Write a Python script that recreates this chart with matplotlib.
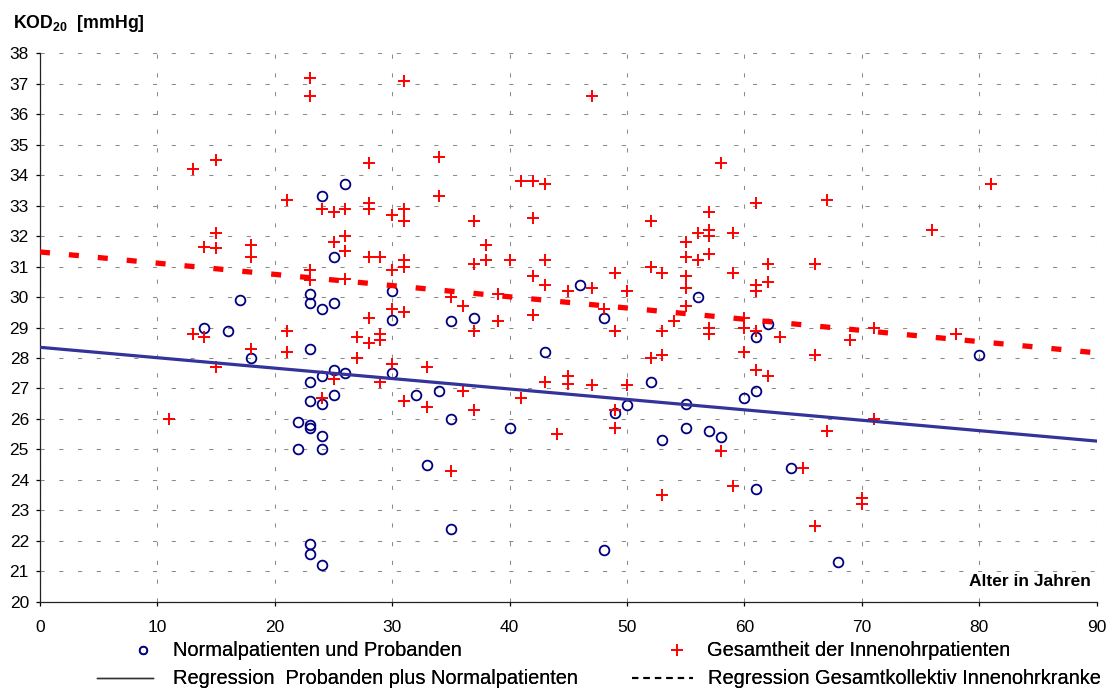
import numpy as np
import matplotlib
matplotlib.use('Agg')
import matplotlib.pyplot as plt
from matplotlib.lines import Line2D

plt.rcParams['font.family'] = ['Liberation Sans', 'DejaVu Sans']
plt.rcParams['mathtext.fontset'] = 'custom'
plt.rcParams['mathtext.rm'] = 'Liberation Sans'
plt.rcParams['mathtext.bf'] = 'Liberation Sans:bold'

## Daten: Normalpatienten und Probanden (Alter, KOD20)
norm_alter = [14, 16, 17, 18, 22, 22, 23, 23, 23, 23, 23, 23, 23, 23, 23,
              24, 24, 24, 24, 24, 24, 24, 25, 25, 25, 25, 26, 26, 30, 30,
              30, 32, 33, 34, 35, 35, 35, 37, 40, 43, 46, 48, 48, 49, 50,
              52, 53, 55, 55, 56, 57, 58, 60, 61, 61, 61, 62, 64, 68, 80]
norm_kod = [29.0, 28.9, 29.9, 28.0, 25.9, 25.0, 30.1, 29.8, 28.3, 27.2, 26.6, 25.8, 25.7, 21.9, 21.55,
            33.3, 29.6, 27.4, 26.5, 25.45, 25.0, 21.2, 31.3, 29.8, 27.6, 26.8, 33.7, 27.5, 30.2, 29.25,
            27.5, 26.8, 24.5, 26.9, 29.2, 26.0, 22.4, 29.3, 25.7, 28.2, 30.4, 29.3, 21.7, 26.2, 26.45,
            27.2, 25.3, 26.5, 25.7, 30.0, 25.6, 25.4, 26.7, 28.7, 26.9, 23.7, 29.1, 24.4, 21.3, 28.1]

## Daten: Gesamtheit der Innenohrpatienten
ohr_alter = [11, 13, 13, 14, 14, 15, 15, 15, 15, 18, 18, 18, 21, 21, 21,
             23, 23, 23, 23, 24, 24, 25, 25, 25, 26, 26, 26, 26, 27, 27,
             28, 28, 28, 28, 28, 28, 29, 29, 29, 29, 30, 30, 30, 30,
             31, 31, 31, 31, 31, 31, 31, 33, 33, 34, 34, 35, 35, 36, 36,
             37, 37, 37, 37, 38, 38, 39, 39, 40, 41, 41, 42, 42, 42, 42,
             43, 43, 43, 43, 44, 45, 45, 45, 47, 47, 47, 48, 49, 49, 49, 49,
             50, 50, 52, 52, 52, 53, 53, 53, 53, 54, 55, 55, 55, 55, 55,
             56, 56, 57, 57, 57, 57, 57, 57, 58, 58, 59, 59, 59, 60, 60, 60,
             61, 61, 61, 61, 61, 62, 62, 62, 63, 65, 66, 66, 66, 67, 67,
             69, 70, 70, 71, 71, 76, 78, 81]
ohr_kod = [26.0, 34.2, 28.8, 31.65, 28.7, 34.5, 32.1, 31.6, 27.7, 31.7, 31.3, 28.3, 33.2, 28.9, 28.2,
           37.2, 36.6, 30.9, 30.55, 32.9, 26.7, 32.8, 31.8, 27.3, 32.9, 32.0, 31.5, 30.6, 28.7, 28.0,
           34.4, 33.1, 32.9, 31.3, 29.3, 28.5, 31.3, 28.8, 28.6, 27.2, 32.7, 30.9, 29.6, 27.8,
           37.1, 32.9, 32.5, 31.2, 31.0, 29.5, 26.6, 27.7, 26.4, 34.6, 33.3, 30.0, 24.3, 29.7, 26.9,
           32.5, 31.1, 28.9, 26.3, 31.7, 31.2, 30.1, 29.2, 31.2, 33.8, 26.7, 33.8, 32.6, 30.7, 29.4,
           33.7, 31.2, 30.4, 27.2, 25.5, 30.2, 27.4, 27.15, 36.6, 30.3, 27.1, 29.6, 30.8, 28.9, 26.3, 25.7,
           30.2, 27.1, 32.5, 31.0, 28.0, 30.8, 28.9, 28.1, 23.5, 29.2, 31.8, 31.3, 30.7, 30.3, 29.7,
           32.1, 31.2, 32.8, 32.2, 32.0, 31.4, 29.0, 28.8, 34.4, 24.95, 32.1, 30.8, 23.8, 29.3, 29.0, 28.2,
           33.1, 30.4, 30.2, 28.9, 27.6, 31.1, 30.5, 27.4, 28.7, 24.4, 31.1, 28.1, 22.5, 33.2, 25.6,
           28.6, 23.4, 23.2, 29.0, 26.0, 32.2, 28.8, 33.7]

## Regressionsgeraden (Achsenabschnitt, Steigung)
reg_norm = [28.35, -0.0342]
reg_ohr = [31.48, -0.0368]

## Plot
W, H = 1109, 689
fig = plt.figure(figsize=(W/100, H/100), dpi=100)
ax = fig.add_axes([40/W, 1-601.7/H, (1096.7-40)/W, (601.7-53.3)/H])

ax.plot(norm_alter, norm_kod, 'o', ls='none', mfc='none', mec='#000080',
        ms=7, mew=1.3, zorder=3)
ax.plot(ohr_alter, ohr_kod, '+', ls='none', color='#ff0000',
        ms=8, mew=1.4, zorder=4)

xr = np.array([0, 90])
ax.plot(xr, reg_norm[0] + reg_norm[1]*xr, '-', color='#333399', lw=2.3, zorder=5)
ax.plot(xr, reg_ohr[0] + reg_ohr[1]*xr, color='#ff0000', lw=3.8,
        dashes=(1.9, 3.6), zorder=5)

ax.set_xlim(0, 90)
ax.set_ylim(20, 38)
ax.set_xticks(np.arange(0, 91, 10))
ax.set_yticks(np.arange(20, 39, 1))
ax.grid(True, color='#8c8c8c', lw=0.75, dashes=(4, 14))
ax.set_axisbelow(True)
for s in ['top', 'right']:
    ax.spines[s].set_visible(False)
for s in ['left', 'bottom']:
    ax.spines[s].set_color('#222222')
    ax.spines[s].set_linewidth(0.9)
ax.tick_params(axis='y', direction='out', length=3, width=0.9, pad=5, labelsize=12.5)
ax.tick_params(axis='x', direction='out', length=3, width=0.9, pad=10, labelsize=12.5)

fig.text(13/W, 1-24/H, r'KOD$_{\mathbf{20}}$  [mmHg]', fontsize=12.8,
         fontweight='bold', ha='left', va='center')
ax.text(0.9946, 0.0365, 'Alter in Jahren', transform=ax.transAxes,
        fontsize=12.5, fontweight='bold', ha='right', va='center')

# Legende, jeder Eintrag einzeln gesetzt
def legend_entry(handle, label, x, y, hl, pad):
    lg = fig.legend([handle], [label], loc='center left',
                    bbox_to_anchor=(x/W, 1-y/H), frameon=False,
                    handlelength=hl, handletextpad=pad, borderpad=0,
                    borderaxespad=0, fontsize=14.4, numpoints=1)
    fig.add_artist(lg)

legend_entry(Line2D([], [], marker='o', ls='none', mfc='none', mec='#000080', ms=5.5, mew=1.2),
             'Normalpatienten und Probanden', 133, 651, 1.0, 1.0)
legend_entry(Line2D([], [], marker='+', ls='none', color='#ff0000', ms=8, mew=1.2),
             'Gesamtheit der Innenohrpatienten', 667, 651, 1.0, 1.0)
legend_entry(Line2D([], [], color='#333333', lw=1.0),
             'Regression  Probanden plus Normalpatienten', 97, 679, 2.8, 1.0)
legend_entry(Line2D([], [], color='#000000', lw=1.5, dashes=(3, 2.5)),
             'Regression Gesamtkollektiv Innenohrkranke', 632, 679, 3.05, 0.75)

plt.savefig('out.png', dpi=100)
